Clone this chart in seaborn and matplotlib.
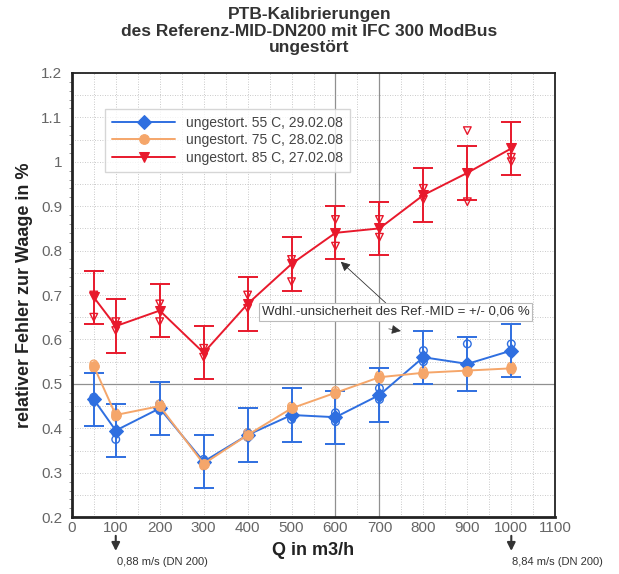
import numpy as np
import pandas as pd
import matplotlib
matplotlib.use("Agg")
import matplotlib.pyplot as plt
import seaborn as sns
from matplotlib.ticker import MultipleLocator

# ---- data ----
Q = [50, 100, 200, 300, 400, 500, 600, 700, 800, 900, 1000]
err_55 = [0.465, 0.395, 0.445, 0.325, 0.385, 0.430, 0.425, 0.475, 0.560, 0.545, 0.575]
err_75 = [0.540, 0.430, 0.450, 0.320, 0.385, 0.445, 0.480, 0.515, 0.525, 0.530, 0.535]
err_85 = [0.695, 0.630, 0.665, 0.570, 0.680, 0.770, 0.840, 0.850, 0.925, 0.975, 1.030]
# individual measurements (two per flow rate)
ind_55_a = [0.460, 0.375, 0.440, 0.320, 0.380, 0.420, 0.415, 0.465, 0.550, 0.545, 0.570]
ind_55_b = [0.470, 0.390, 0.455, 0.330, 0.390, 0.440, 0.435, 0.490, 0.575, 0.590, 0.590]
ind_75_a = [0.535, 0.425, 0.445, 0.315, 0.380, 0.440, 0.475, 0.510, 0.520, 0.525, 0.530]
ind_75_b = [0.545, 0.435, 0.455, 0.325, 0.390, 0.450, 0.485, 0.520, 0.530, 0.535, 0.540]
ind_85_a = [0.700, 0.620, 0.680, 0.560, 0.700, 0.730, 0.810, 0.830, 0.915, 0.910, 1.000]
ind_85_b = [0.650, 0.640, 0.640, 0.580, 0.670, 0.780, 0.870, 0.870, 0.940, 1.070, 1.010]
uncert = 0.06
labels = ["ungestort. 55 C, 29.02.08", "ungestort. 75 C, 28.02.08", "ungestort. 85 C, 27.02.08"]
colors = ["#2f6fe0", "#f5a66a", "#e8192c"]
markers = ["D", "o", "v"]
xticks = [0, 100, 200, 300, 400, 500, 600, 700, 800, 900, 1000, 1100]
yticks = [0.2, 0.3, 0.4, 0.5, 0.6, 0.7, 0.8, 0.9, 1.0, 1.1, 1.2]
ytick_labels = ["0.2", "0.3", "0.4", "0.5", "0.6", "0.7", "0.8", "0.9", "1", "1.1", "1.2"]

sns.set_style("white")
plt.rcParams['font.family'] = ['Liberation Sans', 'DejaVu Sans']

fig = plt.figure(figsize=(6.19, 5.74), dpi=100)
ax = fig.add_axes([0.116, 0.099, 0.781, 0.774])

# grid
for yv in np.arange(0.2, 1.21, 0.05):
    ax.axhline(yv, color="#b8b8b8", lw=0.6, ls=(0, (1, 2)), zorder=0)
for xv in range(0, 1101, 50):
    ax.axvline(xv, color="#b8b8b8", lw=0.6, ls=(0, (1, 2)), zorder=0)
ax.axhline(0.5, color="#909090", lw=0.9, zorder=0)
for xv in (600, 700):
    ax.axvline(xv, color="#909090", lw=0.9, zorder=0)

series = [(err_55, ind_55_a, ind_55_b, True), (err_75, ind_75_a, ind_75_b, False),
          (err_85, ind_85_a, ind_85_b, True)]
for (vals, ia, ib, has_err), lab, c, m in zip(series, labels, colors, markers):
    hm = m if m != "D" else "o"
    ax.scatter(Q, ia, marker=hm, facecolors="none", edgecolors=c, s=30, lw=1.0, zorder=3)
    ax.scatter(Q, ib, marker=hm, facecolors="none", edgecolors=c, s=30, lw=1.0, zorder=3)
    if has_err:
        ax.errorbar(Q, vals, yerr=uncert, fmt="none", ecolor=c, elinewidth=1.4,
                    capsize=7, capthick=1.4, zorder=4)
    df = pd.DataFrame({"Q": Q, "v": vals})
    sns.lineplot(data=df, x="Q", y="v", ax=ax, color=c, marker=m, markersize=7,
                 markeredgecolor=c, lw=1.4, label=lab, zorder=5)

ax.set_xlim(0, 1100)
ax.set_ylim(0.2, 1.2)
ax.set_xticks(xticks)
ax.set_yticks(yticks)
ax.set_yticklabels(ytick_labels)
ax.yaxis.set_minor_locator(MultipleLocator(0.02))
ax.xaxis.set_minor_locator(MultipleLocator(20))
ax.tick_params(axis="x", which="major", labelsize=11, colors="#333333", length=5,
               direction="in", pad=3, labelcolor="#666666")
ax.tick_params(axis="x", which="minor", length=2.5, direction="in", colors="#666666")
ax.tick_params(axis="y", which="major", labelsize=11, colors="#333333", length=5,
               direction="out", pad=2, labelcolor="#666666")
ax.tick_params(axis="y", which="minor", length=2.5, direction="out", colors="#888888", left=True)
for s in ax.spines.values():
    s.set_color("#222222")
    s.set_linewidth(1.3)
ax.spines["left"].set_linewidth(2)
ax.spines["bottom"].set_linewidth(2)

ax.set_xlabel("Q in m3/h", fontsize=13, fontweight="bold", color="#222222", labelpad=5)
ax.set_ylabel("relativer Fehler zur Waage in %", fontsize=13, fontweight="bold",
              color="#222222", labelpad=6)

fig.suptitle("PTB-Kalibrierungen\ndes Referenz-MID-DN200 mit IFC 300 ModBus\nungestört",
             fontsize=12.5, fontweight="bold", color="#333333", y=0.988, linespacing=1.15)

leg = ax.legend(loc="upper left", bbox_to_anchor=(0.055, 0.935), fontsize=10,
                frameon=True, fancybox=False, edgecolor="#cccccc", handlelength=4.5,
                borderpad=0.5, labelspacing=0.25)
for t in leg.get_texts():
    t.set_color("#444444")

# annotation
ax.annotate("Wdhl.-unsicherheit des Ref.-MID = +/- 0,06 %", xy=(612, 0.775),
            xytext=(432, 0.662), fontsize=9.5, color="#333333", va="center",
            bbox=dict(boxstyle="square,pad=0.2", fc="white", ec="#bbbbbb", lw=0.8),
            arrowprops=dict(arrowstyle="-|>", color="#333333", lw=0.6,
                            mutation_scale=14, shrinkA=0, shrinkB=0),
            zorder=6)
ax.annotate("", xy=(755, 0.618), xytext=(715, 0.625),
            arrowprops=dict(arrowstyle="-|>", color="#333333", lw=0.5,
                            mutation_scale=14), zorder=6)

# velocity hints below the axis
for xv, txt in ((100, "0,88 m/s (DN 200)"), (1000, "8,84 m/s (DN 200)")):
    ax.annotate("", xy=(xv, 0.124), xytext=(xv, 0.158), xycoords="data",
                arrowprops=dict(arrowstyle="-|>", color="#333333", lw=1.5,
                                mutation_scale=12, shrinkA=0, shrinkB=0),
                annotation_clip=False)
    ax.text(xv + 2, 0.098, txt, fontsize=8, color="#333333", ha="left", va="center",
            clip_on=False)

fig.savefig("out.png", dpi=100)
